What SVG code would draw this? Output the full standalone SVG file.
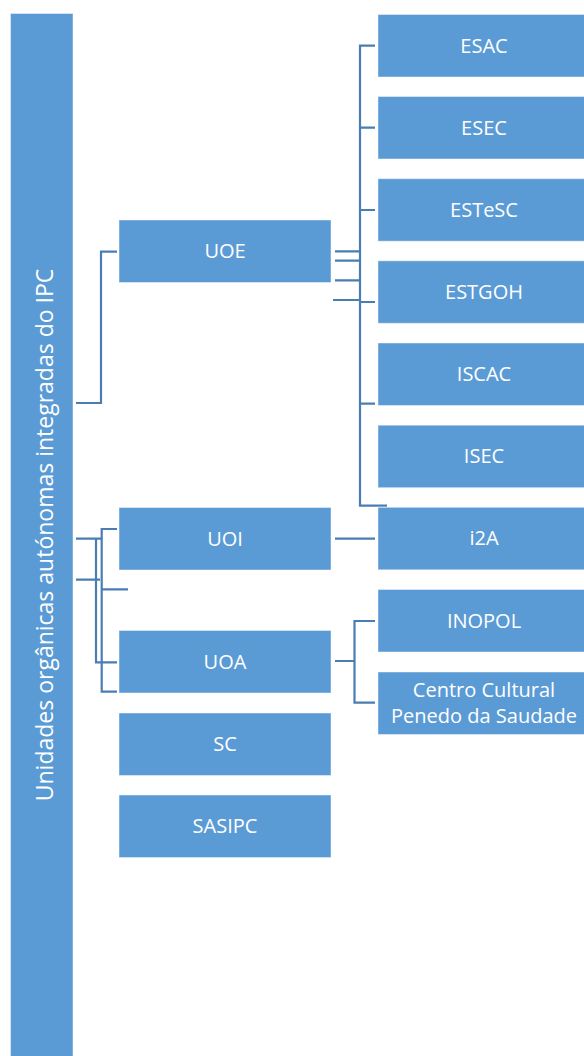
<svg xmlns="http://www.w3.org/2000/svg" width="584" height="1056" viewBox="0 0 584 1056">
<style>
.box{fill:#5B9BD5;stroke:#FFFFFF;stroke-opacity:0.45;stroke-width:1}
.lbl{font-family:"Open Sans","Noto Sans",sans-serif;font-size:20px;fill:#FFFFFF;text-anchor:middle}
.cn{fill:none;stroke:#4A7DB3;stroke-width:2.2}
</style>
<rect width="584" height="1056" fill="#FFFFFF"/>
<g id="root">
<rect class="box" x="10.5" y="13.5" width="62.5" height="1050"/>
<text class="lbl" style="font-size:23px" transform="translate(53,535) rotate(-90)">Unidades orgânicas autónomas integradas do IPC</text>
</g>
<g id="connectors">
<path class="cn" d="M76,403 H101 V251.7 H117"/>
<path class="cn" d="M335,251.3 H359 M335,260.7 H359 M335,280.3 H359 M333,300 H359"/>
<path class="cn" d="M375,45.7 H360 V505.7 H387 M360,127.7 H375 M360,210 H375 M360,302 H375 M360,403.7 H375"/>
<path class="cn" d="M335,538.7 H375"/>
<path class="cn" d="M335,661 H354.5 M375,621 H354.5 V702.7 H375"/>
<path class="cn" d="M76,538.7 H101 M117,529 H101.7 V691.7 H117 M96,538.7 V662.3 H117 M76,579.7 H100 M101.7,589.3 H128"/>
</g>
<g id="UOE"><rect class="box" x="119" y="220" width="212" height="62.5"/><text class="lbl" x="225" y="258">UOE</text></g>
<g id="UOI"><rect class="box" x="119" y="507.5" width="212" height="62.5"/><text class="lbl" x="225" y="545.5">UOI</text></g>
<g id="UOA"><rect class="box" x="119" y="630.5" width="212" height="62.5"/><text class="lbl" x="225" y="668.5">UOA</text></g>
<g id="SC"><rect class="box" x="119" y="713" width="212" height="62.5"/><text class="lbl" x="225" y="751">SC</text></g>
<g id="SASIPC"><rect class="box" x="119" y="795" width="212" height="62.5"/><text class="lbl" x="225" y="833">SASIPC</text></g>
<g id="ESAC"><rect class="box" x="378" y="14.5" width="212" height="62.5"/><text class="lbl" x="484" y="52.5">ESAC</text></g>
<g id="ESEC"><rect class="box" x="378" y="96.5" width="212" height="62.5"/><text class="lbl" x="484" y="134.5">ESEC</text></g>
<g id="ESTeSC"><rect class="box" x="378" y="178.7" width="212" height="62.5"/><text class="lbl" x="484" y="216.7">ESTeSC</text></g>
<g id="ESTGOH"><rect class="box" x="378" y="260.8" width="212" height="62.5"/><text class="lbl" x="484" y="298.8">ESTGOH</text></g>
<g id="ISCAC"><rect class="box" x="378" y="343" width="212" height="62.5"/><text class="lbl" x="484" y="381">ISCAC</text></g>
<g id="ISEC"><rect class="box" x="378" y="425.2" width="212" height="62.5"/><text class="lbl" x="484" y="463.2">ISEC</text></g>
<g id="i2A"><rect class="box" x="378" y="507.3" width="212" height="62.5"/><text class="lbl" x="484" y="545.3">i2A</text></g>
<g id="INOPOL"><rect class="box" x="378" y="589.5" width="212" height="62.5"/><text class="lbl" x="484" y="627.5">INOPOL</text></g>
<g id="CCPS"><rect class="box" x="378" y="672" width="212" height="62.5"/><text class="lbl" x="484" y="697.3">Centro Cultural</text><text class="lbl" x="484" y="723.3">Penedo da Saudade</text></g>
</svg>
